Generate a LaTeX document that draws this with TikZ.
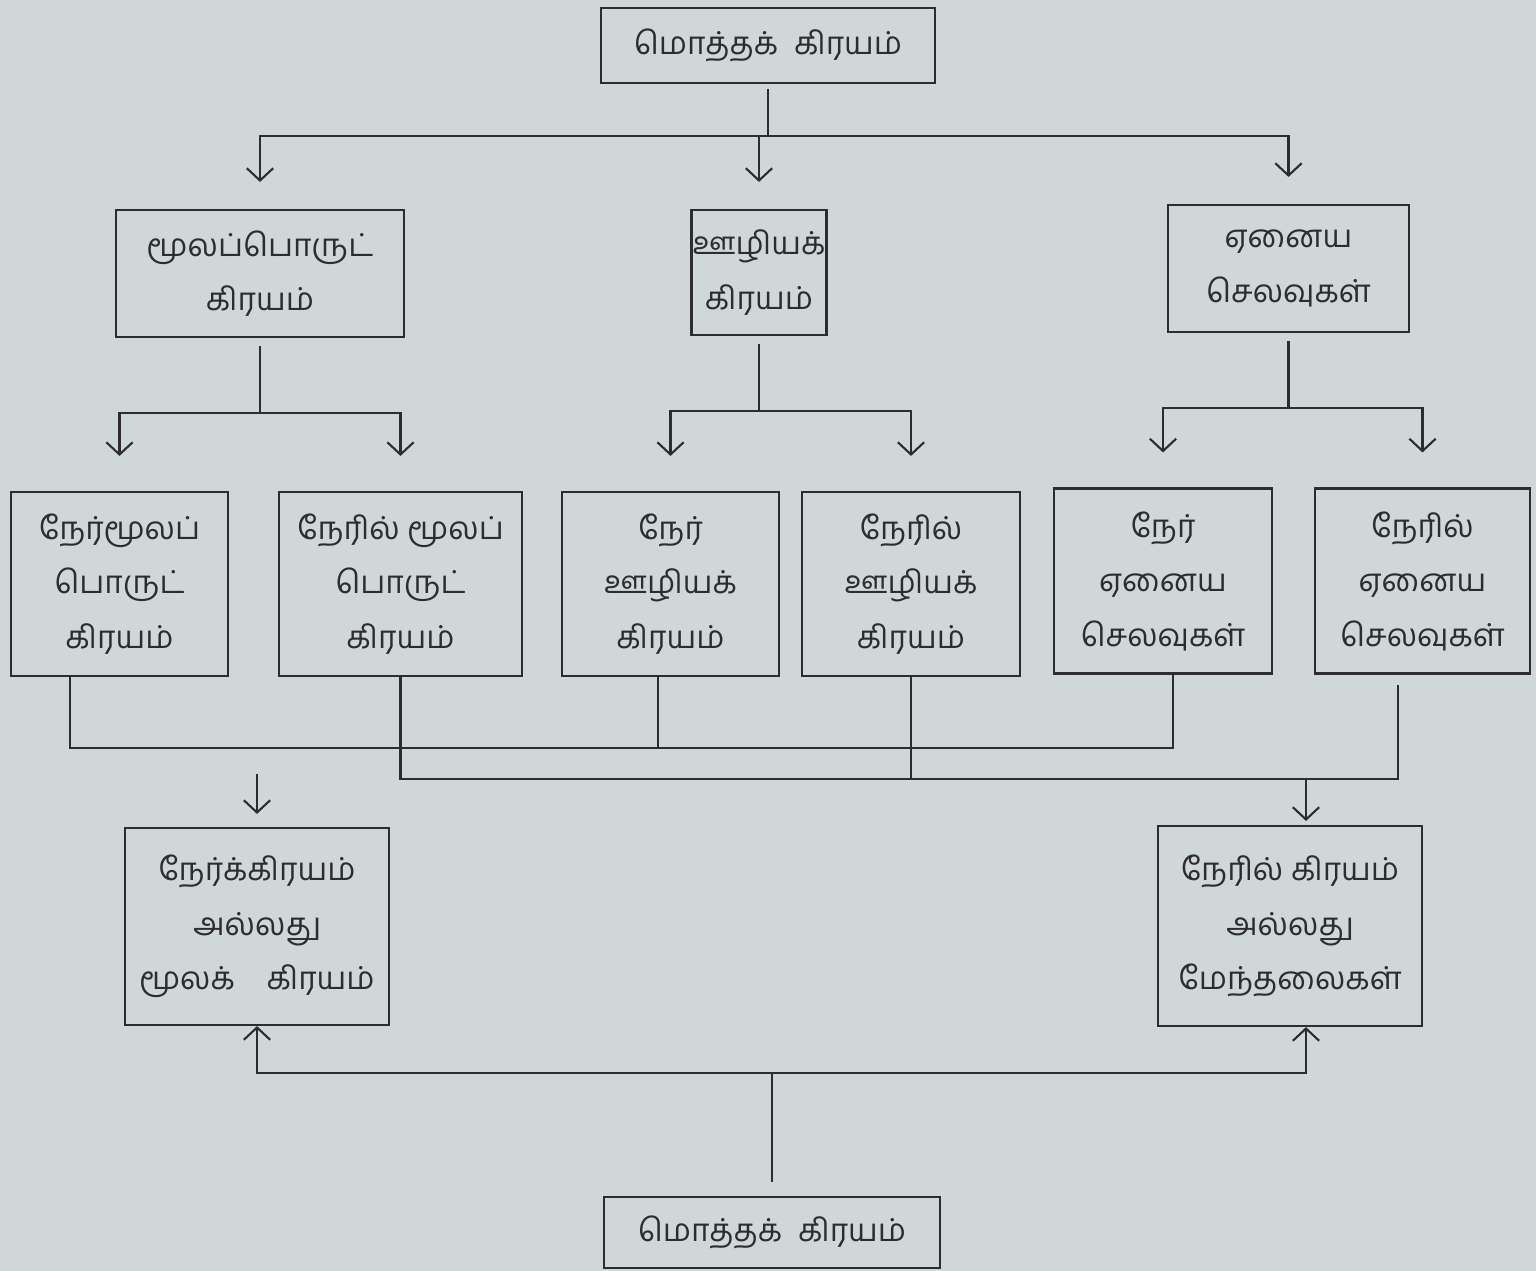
\documentclass[tikz,border=0pt]{standalone}
\usepackage{fontspec}
\newfontfamily\tamil[Script=Tamil]{Hind Madurai}
\usepackage{tikz}
\usetikzlibrary{positioning}
\usetikzlibrary{arrows.meta}
\definecolor{paper}{RGB}{207,215,216}
\definecolor{ink}{RGB}{45,45,45}

\begin{document}
\begin{tikzpicture}[x=0.02cm, y=-0.02cm, color=ink, line width=1.2pt,
    box/.style = {draw, align=center, inner sep=0pt,
                  font=\tamil\fontsize{18}{31}\selectfont},
    wh/.style 2 args = {minimum width=#1*0.02cm, minimum height=#2*0.02cm},
    arr/.style = {-{Straight Barb[length=7pt,width=15pt]}}]
        \fill[paper] (0,0) rectangle (1536,1271);
        \useasboundingbox (0,0) rectangle (1536,1271);

        \node[box, wh={334}{75}] (total) at (768,45.5) {மொத்தக்\enspace கிரயம்};

        \node[box, wh={288}{127}] (mat) at (260,273.5) {மூலப்பொருட்\\கிரயம்};
        \node[box, wh={135}{125}] (lab) at (759,272.5) {ஊழியக்\\கிரயம்};
        \node[box, wh={241}{127}] (oth) at (1288.5,268.5) {ஏனைய\\செலவுகள்};

        \node[box, wh={217}{184}] (dmat) at (119.5,584) {நேர்மூலப்\\பொருட்\\கிரயம்};
        \node[box, wh={243}{184}] (imat) at (400.5,584) {நேரில் மூலப்\\பொருட்\\கிரயம்};
        \node[box, wh={217}{184}] (dlab) at (670.5,584) {நேர்\\ஊழியக்\\கிரயம்};
        \node[box, wh={218}{184}] (ilab) at (911,584) {நேரில்\\ஊழியக்\\கிரயம்};
        \node[box, wh={218}{185}] (doth) at (1163,581) {நேர்\\ஏனைய\\செலவுகள்};
        \node[box, wh={215}{185}] (ioth) at (1422.5,581) {நேரில்\\ஏனைய\\செலவுகள்};

        \node[box, wh={264}{197}] (prime) at (257,926.5) {நேர்க்கிரயம்\\அல்லது\\மூலக்\quad கிரயம்};
        \node[box, wh={264}{200}] (ovh) at (1290,926) {நேரில் கிரயம்\\அல்லது\\மேந்தலைகள்};

        \node[box, wh={336}{71}] (total2) at (772,1232.5) {மொத்தக்\enspace கிரயம்};

        \foreach \j in {mat,lab,oth}{
            \draw[arr, shorten <=0.1cm, shorten >=0.54cm] (total.south) -- ++(0,52) -| (\j.north);
          }
        \foreach \p/\a/\b in {mat/dmat/imat, lab/dlab/ilab, oth/doth/ioth}{
            \draw[arr, shorten <=0.16cm, shorten >=0.7cm] (\p.south) -- ++(0,75) -| (\a.north);
            \draw[arr, shorten <=0.16cm, shorten >=0.7cm] (\p.south) -- ++(0,75) -| (\b.north);
          }

        \draw ([xshift=-0.99cm]dmat.south) -- ++(0,71) coordinate (dj) -| ([xshift=0.2cm]doth.south);
        \draw ([xshift=-0.25cm]dlab.south) -- ([xshift=-0.25cm]dlab.south |- dj);
        \draw[arr, shorten <=0.52cm, shorten >=0.26cm] (prime.north |- dj) -- (prime.north);

        \draw[shorten >=0.2cm] (imat.south) -- ++(0,102) coordinate (ij) -| ([xshift=-0.49cm]ioth.south);
        \draw (ilab.south) -- (ilab.south |- ij);
        \draw[arr, shorten >=0.08cm] ([xshift=0.32cm]ovh.north |- ij) -- ([xshift=0.32cm]ovh.north);

        \draw[arr, shorten <=0.28cm] (total2.north) -- ++(0,-123) -| (prime.south);
        \draw[arr, shorten <=0.28cm] (total2.north) -- ++(0,-123) -| ([xshift=0.32cm]ovh.south);
      \end{tikzpicture}
\end{document}
